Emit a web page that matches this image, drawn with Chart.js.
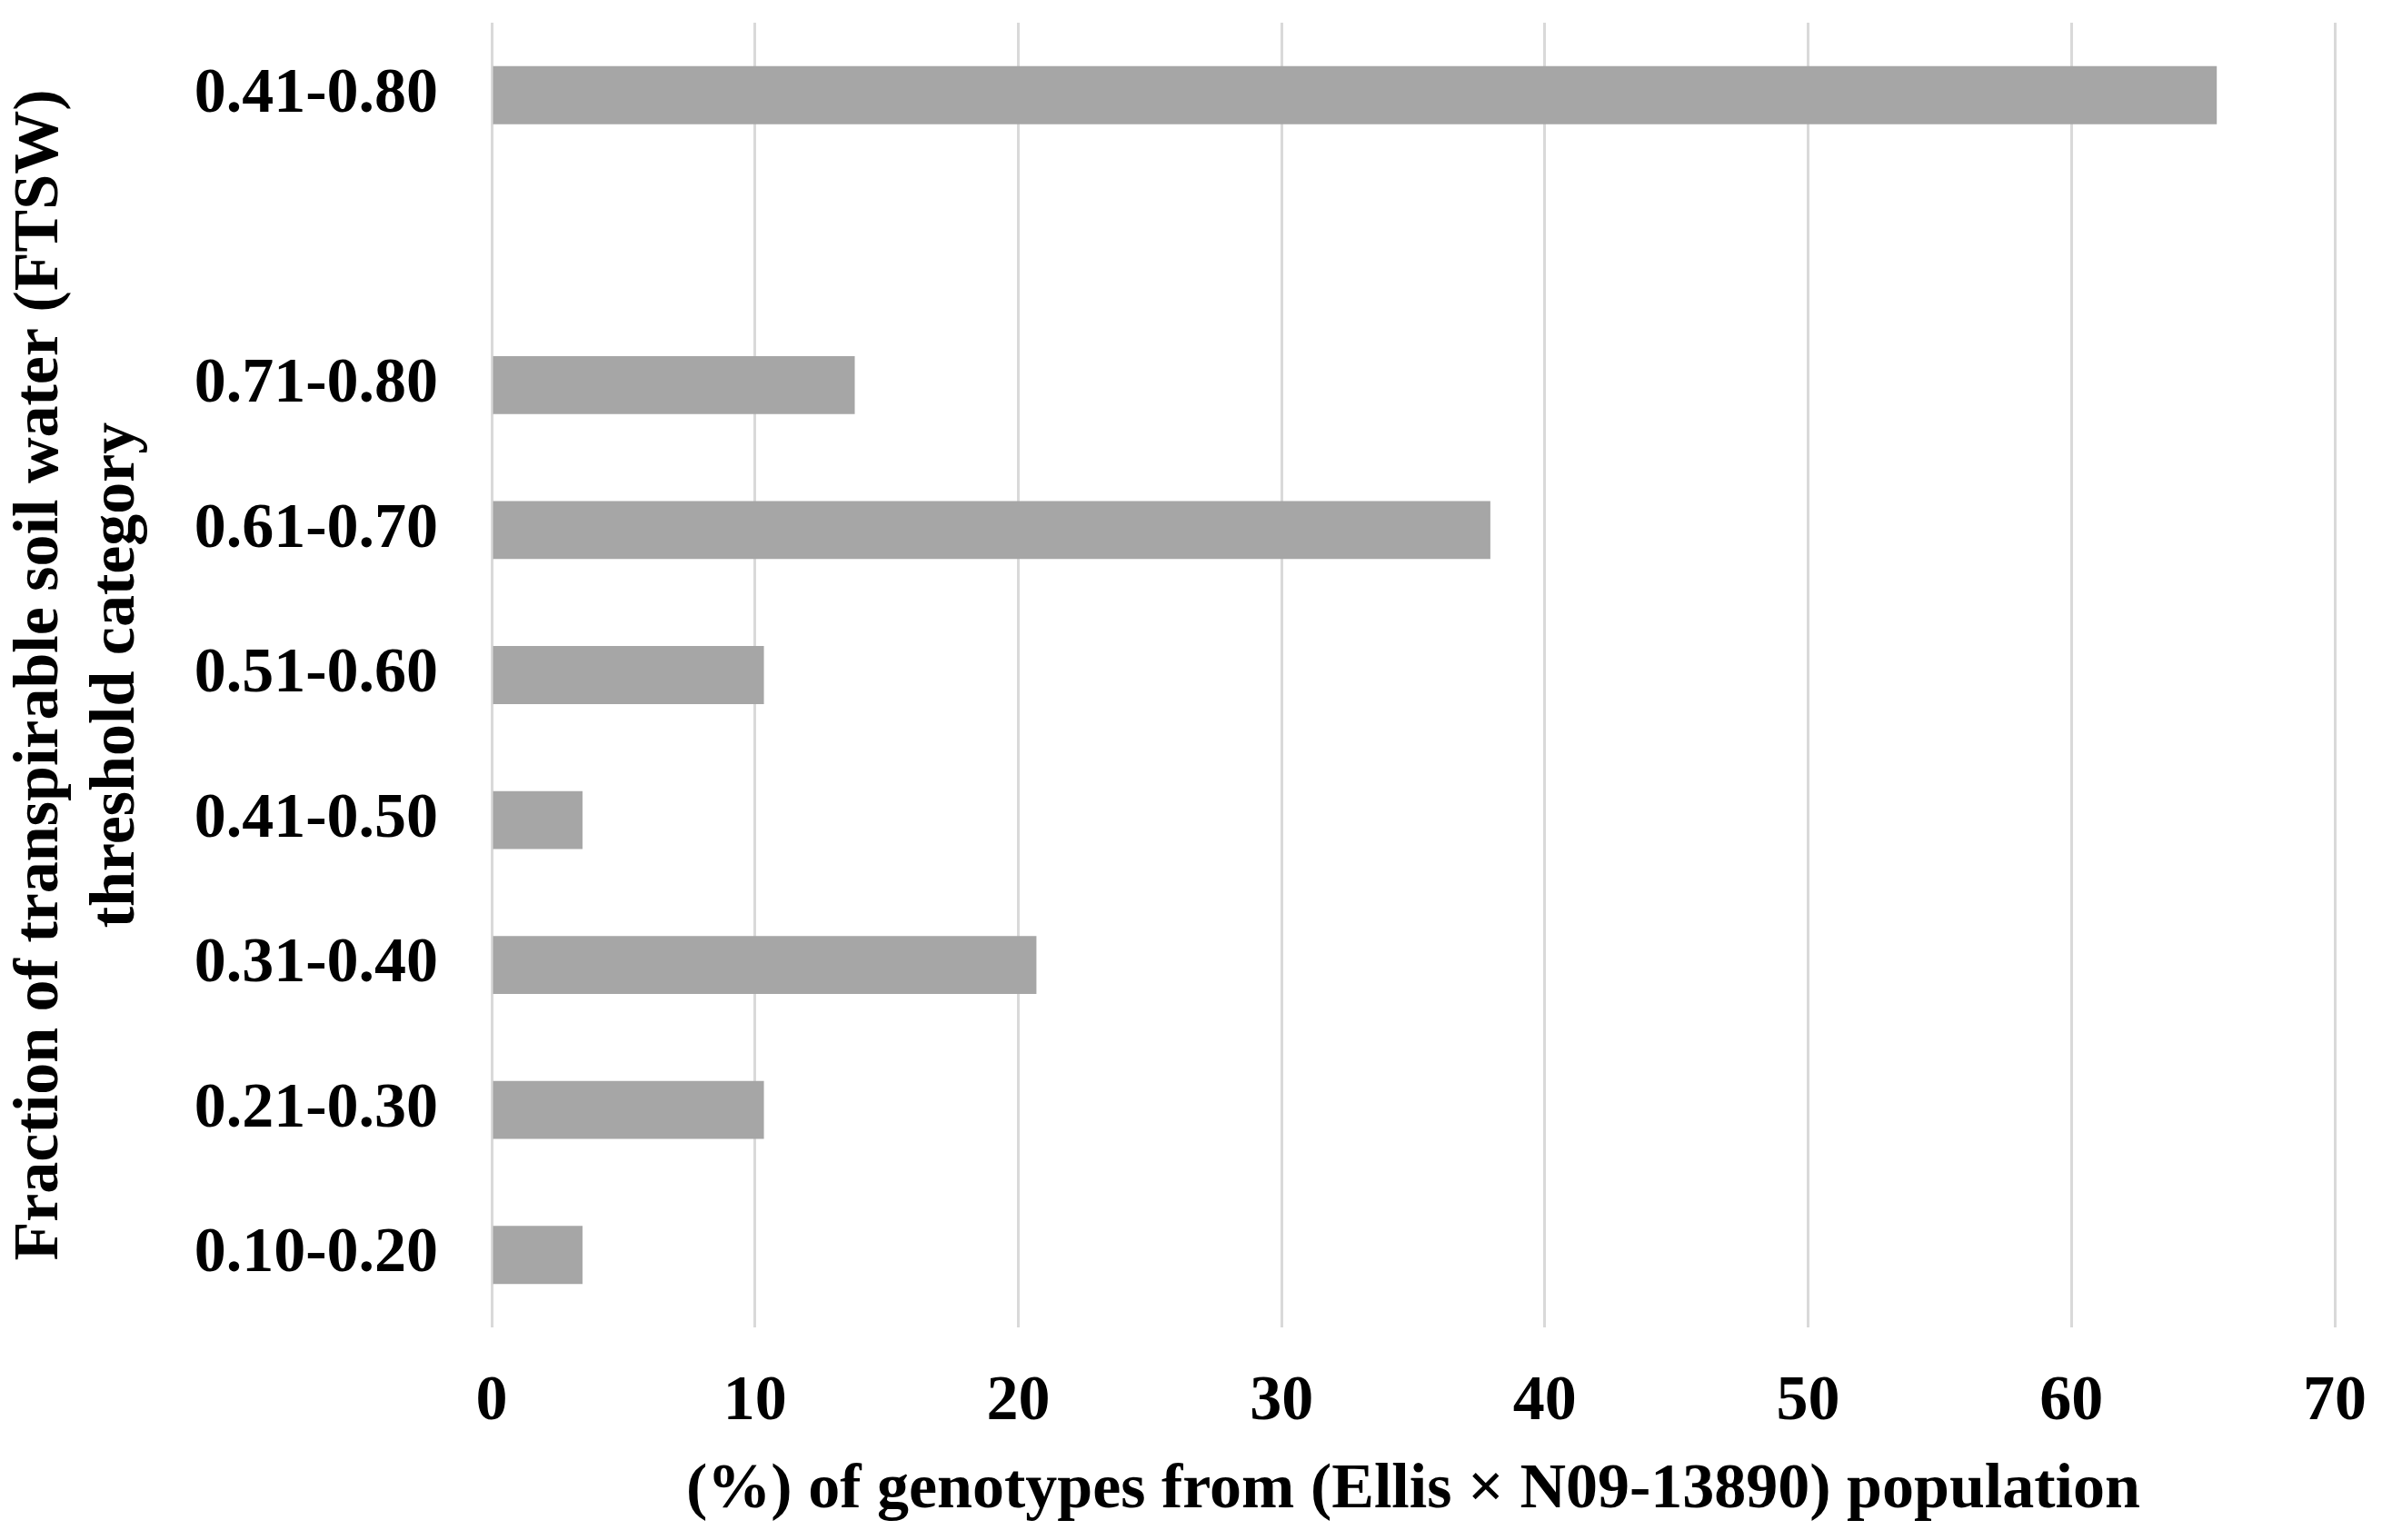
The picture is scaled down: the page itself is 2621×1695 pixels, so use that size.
<!DOCTYPE html>
<html>
<head>
<meta charset="utf-8">
<script src="https://cdn.jsdelivr.net/npm/chart.js@4"></script>
<style>
  html, body { margin: 0; padding: 0; background: #ffffff; }
  #wrap { width: 2621px; height: 1695px; }
</style>
</head>
<body>
<div id="wrap"><canvas id="chart" width="2621" height="1695"></canvas></div>
<script>
// FTSW threshold categories, top to bottom (one empty slot after the first)
const categories = ['0.41-0.80', '', '0.71-0.80', '0.61-0.70', '0.51-0.60', '0.41-0.50', '0.31-0.40', '0.21-0.30', '0.10-0.20'];
// % of genotypes
const percentValues = [65.52, null, 13.79, 37.93, 10.34, 3.45, 20.69, 10.34, 3.45];
const xTicks = [0, 10, 20, 30, 40, 50, 60, 70];

const xTitle = '(%) of genotypes from (Ellis \u00d7 N09-13890) population';
const yTitle = ['Fraction of transpirable soil water (FTSW)', 'threshold category'];

const serif = "'Liberation Serif', 'Times New Roman', serif";

new Chart(document.getElementById('chart'), {
    type: 'bar',
    data: {
        labels: categories,
        datasets: [{
            data: percentValues,
            backgroundColor: '#a6a6a6',
            borderWidth: 0,
            barPercentage: 0.4,
            categoryPercentage: 1.0
        }]
    },
    options: {
        indexAxis: 'y',
        responsive: false,
        animation: false,
        layout: {
            padding: { top: 25, right: 52, left: 0, bottom: 0 }
        },
        plugins: {
            legend: { display: false },
            tooltip: { enabled: false }
        },
        scales: {
            x: {
                min: 0,
                max: 70,
                afterBuildTicks: function(scale) {
                    scale.ticks = xTicks.map(v => ({ value: v }));
                },
                afterFit: function(scale) {
                    scale.height = 234;
                    scale.paddingLeft = 0;
                    scale.paddingRight = 0;
                },
                grid: {
                    color: '#d9d9d9',
                    lineWidth: 3,
                    drawTicks: false
                },
                border: { display: false },
                ticks: {
                    color: '#000000',
                    padding: 41,
                    maxRotation: 0,
                    font: { family: serif, size: 70, weight: 'bold', lineHeight: 1.2 }
                },
                title: {
                    display: true,
                    text: xTitle,
                    color: '#000000',
                    padding: { top: 0, bottom: 12 },
                    font: { family: serif, size: 70, weight: 'bold', lineHeight: 1.2 }
                }
            },
            y: {
                afterFit: function(scale) {
                    scale.width = 541;
                    scale.paddingTop = 0;
                    scale.paddingBottom = 0;
                },
                grid: { display: false, drawTicks: false },
                border: { display: false },
                ticks: {
                    color: '#000000',
                    padding: 59,
                    autoSkip: false,
                    font: { family: serif, size: 70, weight: 'bold', lineHeight: 1.2 }
                },
                title: {
                    display: true,
                    text: yTitle,
                    color: '#000000',
                    padding: { top: 3, bottom: 0 },
                    font: { family: serif, size: 70, weight: 'bold', lineHeight: 1.2 }
                }
            }
        }
    }
});
</script>
</body>
</html>
